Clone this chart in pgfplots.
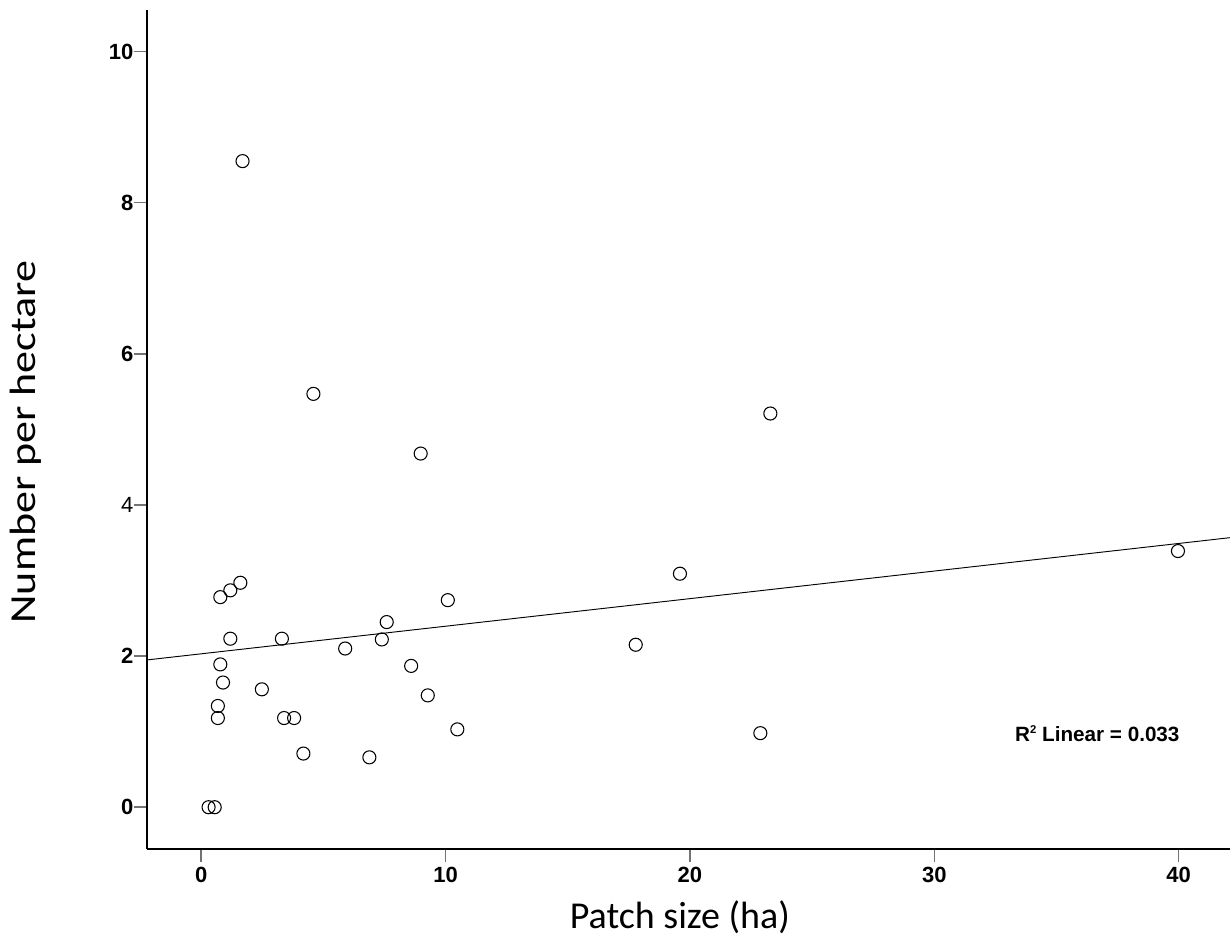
\documentclass[border=0pt]{standalone}
\usepackage{fontspec}
\setmainfont{Liberation Sans}
\newfontfamily\calibri{Carlito}
\usepackage{graphicx}
\usepackage{pgfplots}
\pgfplotsset{compat=1.18}

\begin{document}
\begin{tikzpicture}
\useasboundingbox (0,0) rectangle (922.5pt,708.75pt);
\begin{axis}[
  at={(110.25pt,72pt)}, anchor=south west,
  scale only axis, width=812.25pt, height=629.25pt,
  xmin=-2.22, xmax=42.1, ymin=-0.553, ymax=10.55,
  axis x line=bottom, axis y line=left,
  axis line style={-, line width=1pt, black},
  xtick={0,10,20,30,40},
  ytick={0,2,4,6,8,10},
  yticklabels={\textbf{0},\textbf{2},4,\textbf{6},\textbf{8},\textbf{10}},
  minor tick num=0,
  xtick align=outside, ytick align=outside,
  major tick length=9.75pt,
  tick style={line width=1.2pt, color=black!55},
  /pgf/number format/assume math mode=true,
  xticklabel style={font=\fontsize{16.5}{18}\selectfont\bfseries},
  yticklabel style={font=\fontsize{16.5}{18}\selectfont, xshift=3pt},
  xlabel={Patch size (ha)},
  ylabel={\scalebox{1.2}[1]{Number per hectare}},
  xlabel style={font=\calibri\fontsize{28.5}{30}\selectfont, at={(axis description cs:0.492,-0.0942)}, anchor=base},
  ylabel style={font=\calibri\fontsize{27.5}{30}\selectfont, at={(axis description cs:-0.1034,0.485)}, anchor=base},
]
\addplot[only marks, mark=o, mark size=4.9pt, mark options={line width=0.8pt, draw=black, fill=none}] coordinates {
  (0.30,0.00) (0.55,0.00)
  (0.78,2.78) (1.19,2.87) (1.60,2.97)
  (10.09,2.74) (7.59,2.45) (1.19,2.23)
  (3.30,2.23) (5.89,2.10) (7.39,2.22)
  (0.78,1.89) (8.59,1.87) (0.89,1.65)
  (2.48,1.56) (9.27,1.48) (0.68,1.34)
  (0.68,1.18) (3.39,1.18) (3.80,1.18)
  (10.48,1.03) (4.18,0.71) (6.88,0.66)
  (4.59,5.47) (8.98,4.68) (1.69,8.55)
  (19.59,3.09) (17.78,2.15) (23.29,5.21)
  (22.88,0.98) (39.97,3.39)
};
\addplot[no marks, line width=0.7pt, black] coordinates {(-2.22,1.949) (42.1,3.567)};
\node[anchor=base west, inner sep=0pt, font=\fontsize{15.5}{17}\selectfont\bfseries] at (axis cs:33.3,0.874) {R\raisebox{5.6pt}{\fontsize{8.5}{9}\selectfont 2} Linear = 0.033};
\end{axis}
\end{tikzpicture}
\end{document}
